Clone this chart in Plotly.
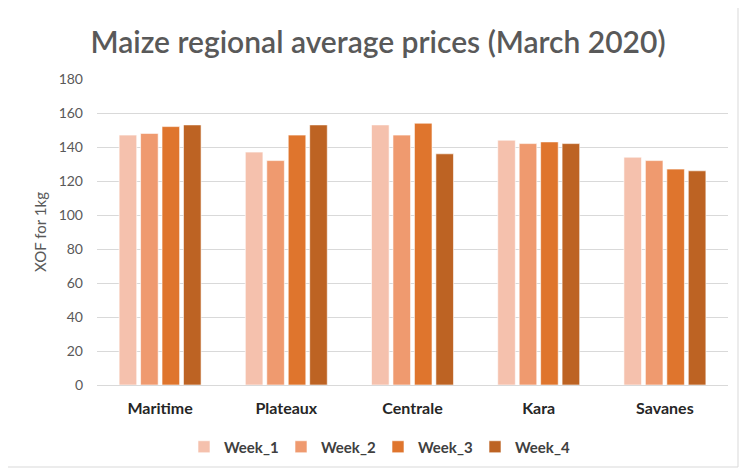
import plotly.graph_objects as go

regions = ["Maritime", "Plateaux", "Centrale", "Kara", "Savanes"]
week_1 = [147, 137, 153, 144, 134]
week_2 = [148, 132, 147, 142, 132]
week_3 = [152, 147, 154, 143, 127]
week_4 = [153, 153, 136, 142, 126]
series_names = ["Week_1", "Week_2", "Week_3", "Week_4"]
series_values = [week_1, week_2, week_3, week_4]
colors = ["#F5C1AD", "#EF9A6F", "#DF752D", "#BD6323"]
y_ticks = [0, 20, 40, 60, 80, 100, 120, 140, 160, 180]

# page has an 8px body margin; work in figure coordinates (page - 8)
W, H = 744, 462
L, R, T, B = 89, 24, 71, 85
pw, ph = W - L - R, H - T - B

fig = go.Figure()
for name, vals, c in zip(series_names, series_values, colors):
    fig.add_trace(go.Bar(x=regions, y=vals, name=name,
                         marker=dict(color=c, line=dict(color="rgba(255,255,255,0.6)", width=1))))

font_family = "Lato, 'Open Sans', sans-serif"
fig.update_layout(
    width=W, height=H,
    margin=dict(l=L, r=R, t=T, b=B, autoexpand=False),
    paper_bgcolor="white", plot_bgcolor="white",
    barmode="group", bargap=0.32, bargroupgap=0.18,
    font=dict(family=font_family, color="#595959"),
    title=dict(text="Maize regional average prices (March 2020)",
               x=370 / W, xanchor="center", xref="container", y=1 - 34 / H, yanchor="middle",
               font=dict(size=30, color="#595959", family=font_family, weight=600)),
    xaxis=dict(showgrid=False, showline=True, linecolor="#D9D9D9", linewidth=1,
               ticks="", automargin=False, ticklabelstandoff=9,
               tickfont=dict(size=16, color="#262626", family=font_family, weight="bold")),
    yaxis=dict(range=[0, 180], tickvals=y_ticks, showgrid=True, gridcolor="#D9D9D9",
               gridwidth=1, zeroline=False, showline=False, ticks="", automargin=False,
               tickfont=dict(size=14, color="#595959"), ticklabelstandoff=13,
               title=dict(text="XOF for 1kg", font=dict(size=15, color="#595959"), standoff=8)),
    legend=dict(orientation="h", x=(176 - L) / pw, xanchor="left", y=-(439 - (T + ph)) / ph, yanchor="middle",
                font=dict(size=15, color="#404040", weight="bold"), traceorder="normal",
                itemwidth=30, entrywidth=52, entrywidthmode="pixels"),
    shapes=[dict(type="rect", xref="paper", yref="paper",
                 x0=(-1 - L) / pw, x1=(730 - L) / pw, y0=-(459 - (T + ph)) / ph, y1=(T + ph + 2) / ph,
                 line=dict(color="#D9D9D9", width=1), fillcolor="rgba(0,0,0,0)", layer="below")],
)

fig.write_html("out.html")
